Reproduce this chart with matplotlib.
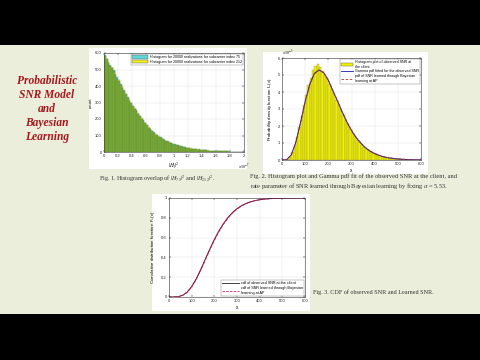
import matplotlib
matplotlib.use('Agg')
import matplotlib.pyplot as plt
from matplotlib.patches import Rectangle, Patch
from matplotlib.lines import Line2D
from matplotlib.ticker import FuncFormatter
import numpy as np

plt.rcParams['mathtext.fontset'] = 'stix'
plt.rcParams['font.family'] = ['Liberation Sans', 'DejaVu Sans']

# ---------------- data ----------------
# Fig. 1: histogram counts, bin width 0.025 (x1e-7), range 0..2
h_bin_width = 0.025
counts_sc75 = [588, 562, 541, 530, 512, 495, 468, 452, 430, 414,
               390, 375, 350, 336, 310, 300, 281, 260, 252, 230,
               220, 200, 192, 174, 166, 148, 142, 126, 120, 106,
               101, 90, 88, 78, 74, 66, 64, 56, 54, 48,
               47, 41, 40, 35, 34, 29, 29, 25, 24, 21,
               21, 18, 18, 15, 16, 13, 13, 11, 11, 9,
               9, 8, 8, 7, 7, 6, 6, 5, 5, 4,
               4, 4, 3, 3, 3, 2, 2, 2, 1, 1]
counts_sc212 = [580, 566, 548, 524, 518, 489, 472, 445, 434, 406,
                394, 369, 354, 330, 314, 296, 279, 264, 248, 234,
                216, 204, 188, 178, 162, 152, 138, 130, 116, 110,
                99, 94, 84, 80, 72, 68, 62, 58, 52, 50,
                45, 43, 38, 37, 33, 30, 27, 26, 23, 22,
                19, 19, 16, 16, 14, 14, 12, 11, 10, 10,
                9, 8, 7, 7, 6, 6, 5, 5, 4, 4,
                4, 3, 3, 3, 2, 2, 2, 1, 1, 1]
legend1 = ['Histogram for 20000 realizations for subcarrier index 75',
           'Histogram for 20000 realizations for subcarrier index 212']

# Fig. 2: SNR histogram (density x1e-3), bins of width 10 starting at 20
snr_bin_start = 20
snr_bin_width = 10
snr_hist_density = [0.05, 0.2, 0.45, 0.85, 1.35, 1.95, 2.6, 3.25, 3.85, 4.4,
                    4.85, 5.3, 5.55, 5.65, 5.45, 5.25, 5.0, 4.8, 4.5, 4.2,
                    3.9, 3.55, 3.25, 2.95, 2.65, 2.35, 2.1, 1.85, 1.6, 1.4,
                    1.2, 1.05, 0.9, 0.78, 0.66, 0.56, 0.48, 0.41, 0.34, 0.29,
                    0.24, 0.2, 0.17, 0.14, 0.11, 0.09, 0.08, 0.06, 0.05, 0.04,
                    0.03, 0.025, 0.02, 0.015]
snr_x = [0, 20, 40, 60, 80, 100, 120, 140, 160, 180, 200, 220, 240, 260, 280,
         300, 320, 340, 360, 380, 400, 420, 440, 460, 480, 500, 520, 540, 560,
         580, 600]
gamma_fit_pdf = [0, 0.02, 0.30, 1.06, 2.21, 3.45, 4.47, 5.10, 5.30, 5.13, 4.69,
                 4.05, 3.45, 2.81, 2.23, 1.73, 1.32, 0.99, 0.72, 0.52, 0.375,
                 0.265, 0.186, 0.129, 0.089, 0.061, 0.041, 0.028, 0.019, 0.012, 0.008]
bayes_pdf = [0, 0.02, 0.28, 1.02, 2.15, 3.38, 4.41, 5.06, 5.28, 5.14, 4.72,
             4.09, 3.49, 2.85, 2.27, 1.76, 1.35, 1.01, 0.74, 0.54, 0.39,
             0.275, 0.193, 0.134, 0.093, 0.064, 0.043, 0.029, 0.02, 0.013, 0.009]
legend2 = ['Histogram plot of observed SNR at\nthe client',
           'Gamma pdf fitted for the observed SNR',
           'pdf of SNR learned through Bayesian\nlearning at AP']

# Fig. 3: CDFs
cdf_observed = [0, 0.0002, 0.003, 0.017, 0.049, 0.105, 0.183, 0.278, 0.381, 0.484,
                0.581, 0.667, 0.741, 0.803, 0.853, 0.892, 0.922, 0.945, 0.962, 0.974,
                0.983, 0.989, 0.993, 0.996, 0.997, 0.998, 0.999, 0.9995, 1.0, 1.0, 1.0]
cdf_bayes = [0, 0.0002, 0.003, 0.016, 0.046, 0.100, 0.176, 0.270, 0.372, 0.475,
             0.572, 0.659, 0.734, 0.797, 0.848, 0.888, 0.919, 0.942, 0.960, 0.973,
             0.982, 0.988, 0.992, 0.995, 0.997, 0.998, 0.999, 0.9995, 1.0, 1.0, 1.0]
legend3 = ['cdf of observed SNR at the client',
           'cdf of SNR learned through Bayesian\nlearning at AP']

title_lines = ['Probabilistic', 'SNR Model', 'and', 'Bayesian', 'Learning']
caption1 = r'Fig. 1. Histogram overlap of $|H_{75}|^2$ and $|H_{212}|^2$.'
caption2 = ('Fig. 2. Histogram plot and Gamma pdf fit of the observed SNR at the client, and\n'
            r'rate parameter of SNR learned through Bayesian learning by fixing $\alpha$ = 5.53.')
caption3 = 'Fig. 3. CDF of observed SNR and Learned SNR.'

# ---------------- figure ----------------
W, H = 480, 360
fig = plt.figure(figsize=(4.8, 3.6), dpi=100)
fig.patch.set_facecolor('#eaeedb')


def rect(x0, y0, x1, y1, color):
    fig.add_artist(Rectangle((x0 / W, 1 - y1 / H), (x1 - x0) / W, (y1 - y0) / H,
                             transform=fig.transFigure, facecolor=color,
                             edgecolor='none', zorder=0))


def px_axes(x0, y0, x1, y1):
    return fig.add_axes([x0 / W, 1 - y1 / H, (x1 - x0) / W, (y1 - y0) / H])


# black letterbox bars
rect(0, 0, 480, 45, 'black')
rect(0, 314, 480, 360, 'black')
# white figure panels
rect(89, 48, 247, 169, 'white')
rect(263, 52, 428, 174, 'white')
rect(152, 194, 310, 311, 'white')

tick_fs = 3.0
gfmt = FuncFormatter(lambda v, p: '%g' % v)


def style(ax):
    ax.set_facecolor('white')
    ax.grid(True, color='#e3e3e3', lw=0.35)
    ax.set_axisbelow(True)
    for s in ax.spines.values():
        s.set_linewidth(0.4)
        s.set_color('#333333')
    ax.tick_params(direction='in', length=1.2, width=0.35, labelsize=tick_fs,
                   pad=1.5, colors='#222222', top=True, right=True)


# ---- Fig 1 ----
ax1 = px_axes(104, 53, 244, 152)
edges = np.arange(len(counts_sc75)) * h_bin_width
c75 = np.array(counts_sc75)
c212 = np.array(counts_sc212)
ax1.bar(edges, c75, width=h_bin_width, align='edge', color='#5fd8d8',
        edgecolor='#3f6f3f', linewidth=0.15)
ax1.bar(edges, c212, width=h_bin_width, align='edge', color='#e8e83a',
        edgecolor='#3f6f3f', linewidth=0.15)
ax1.bar(edges, np.minimum(c75, c212), width=h_bin_width, align='edge',
        color='#7aab3a', edgecolor='#527a2a', linewidth=0.15)
ax1.set_xlim(0, 2)
ax1.set_ylim(0, 600)
ax1.set_xticks(np.arange(0, 2.01, 0.2))
ax1.set_yticks(range(0, 601, 100))
ax1.xaxis.set_major_formatter(gfmt)
style(ax1)
ax1.set_xlabel(r'$|H_l|^2$', fontsize=4, labelpad=1.5)
ax1.set_ylabel('count', fontsize=3.2, labelpad=2)
ax1.text(1.0, -0.1, r'$\times10^{-7}$', transform=ax1.transAxes, fontsize=3,
         ha='center', va='top')
h1 = [Patch(facecolor='#5fd8d8', edgecolor='#555555', linewidth=0.3),
      Patch(facecolor='#f0f020', edgecolor='#555555', linewidth=0.3)]
leg = ax1.legend(h1, legend1, loc='upper right', fontsize=2.6, frameon=True,
                 fancybox=False, borderpad=0.3, handlelength=4.5, handleheight=1.0,
                 labelspacing=0.2, handletextpad=0.4, borderaxespad=0.3)
leg.get_frame().set_linewidth(0.3)
leg.get_frame().set_edgecolor('#555555')

# ---- Fig 2 ----
ax2 = px_axes(282, 58, 421, 160)
snr_edges = snr_bin_start + np.arange(len(snr_hist_density)) * snr_bin_width
ax2.bar(snr_edges, snr_hist_density, width=snr_bin_width, align='edge',
        color='#f0f000', edgecolor='#8c8c50', linewidth=0.25)
ax2.plot(snr_x, gamma_fit_pdf, color='#1a1aa0', lw=0.7)
ax2.plot(snr_x, bayes_pdf, color='#c03020', lw=0.6, ls=(0, (3, 2)))
ax2.set_xlim(0, 600)
ax2.set_ylim(0, 6)
ax2.set_xticks(range(0, 601, 100))
ax2.set_yticks(range(0, 7))
style(ax2)
ax2.set_xlabel('x', fontsize=3.4, labelpad=1.5)
ax2.set_ylabel(r'Probability density function f$_X$(x)', fontsize=3.2, labelpad=3)
ax2.text(0.0, 1.01, r'$\times10^{-3}$', transform=ax2.transAxes, fontsize=3,
         ha='left', va='bottom')
h2 = [Patch(facecolor='#f2f200', edgecolor='#555555', linewidth=0.3),
      Line2D([], [], color='#1a1aa0', lw=0.6),
      Line2D([], [], color='#c03020', lw=0.6, ls=(0, (3, 2)))]
leg = ax2.legend(h2, legend2, loc='upper right', fontsize=2.6, frameon=True,
                 fancybox=False, borderpad=0.3, handlelength=3.5, handleheight=0.8,
                 labelspacing=0.2, handletextpad=0.4, borderaxespad=0.3)
leg.get_frame().set_linewidth(0.3)
leg.get_frame().set_edgecolor('#555555')

# ---- Fig 3 ----
ax3 = px_axes(169, 198, 305, 297)
ax3.plot(snr_x, cdf_observed, color='#3a1020', lw=0.7)
ax3.plot(snr_x, cdf_bayes, color='#d0206a', lw=0.7, ls=(0, (3, 1.5)))
ax3.set_xlim(0, 600)
ax3.set_ylim(0, 1)
ax3.set_xticks(range(0, 601, 100))
ax3.set_yticks(np.arange(0, 1.01, 0.2))
ax3.yaxis.set_major_formatter(gfmt)
style(ax3)
ax3.set_xlabel('x', fontsize=3.4, labelpad=1.5)
ax3.set_ylabel(r'Cumulative distribution function F$_X$(x)', fontsize=3.2, labelpad=3)
h3 = [Line2D([], [], color='#222222', lw=0.6),
      Line2D([], [], color='#d0206a', lw=0.6, ls=(0, (3, 1.5)))]
leg = ax3.legend(h3, legend3, loc='lower right', fontsize=2.7, frameon=True,
                 fancybox=False, borderpad=0.3, handlelength=4.5,
                 labelspacing=0.2, handletextpad=0.4, borderaxespad=0.3)
leg.get_frame().set_linewidth(0.3)
leg.get_frame().set_edgecolor('#555555')

# ---- slide texts ----
for i, line in enumerate(title_lines):
    fig.text(47 / W, 1 - (81 + 14 * i) / H, line, fontsize=8.3, color='#a8161c',
             family='Liberation Serif', fontweight='bold', fontstyle='italic',
             ha='center', va='center')

fig.text(99 / W, 1 - 179 / H, caption1, fontsize=4.4, family='Liberation Serif',
         color='#333333', ha='left', va='center')
fig.text(250 / W, 1 - 182.5 / H, caption2, fontsize=4.55, family='Liberation Serif',
         color='#333333', ha='left', va='center', linespacing=1.3)
fig.text(313 / W, 1 - 292 / H, caption3, fontsize=4.4, family='Liberation Serif',
         color='#333333', ha='left', va='center')

fig.savefig('out.png', dpi=100, facecolor=fig.get_facecolor())
